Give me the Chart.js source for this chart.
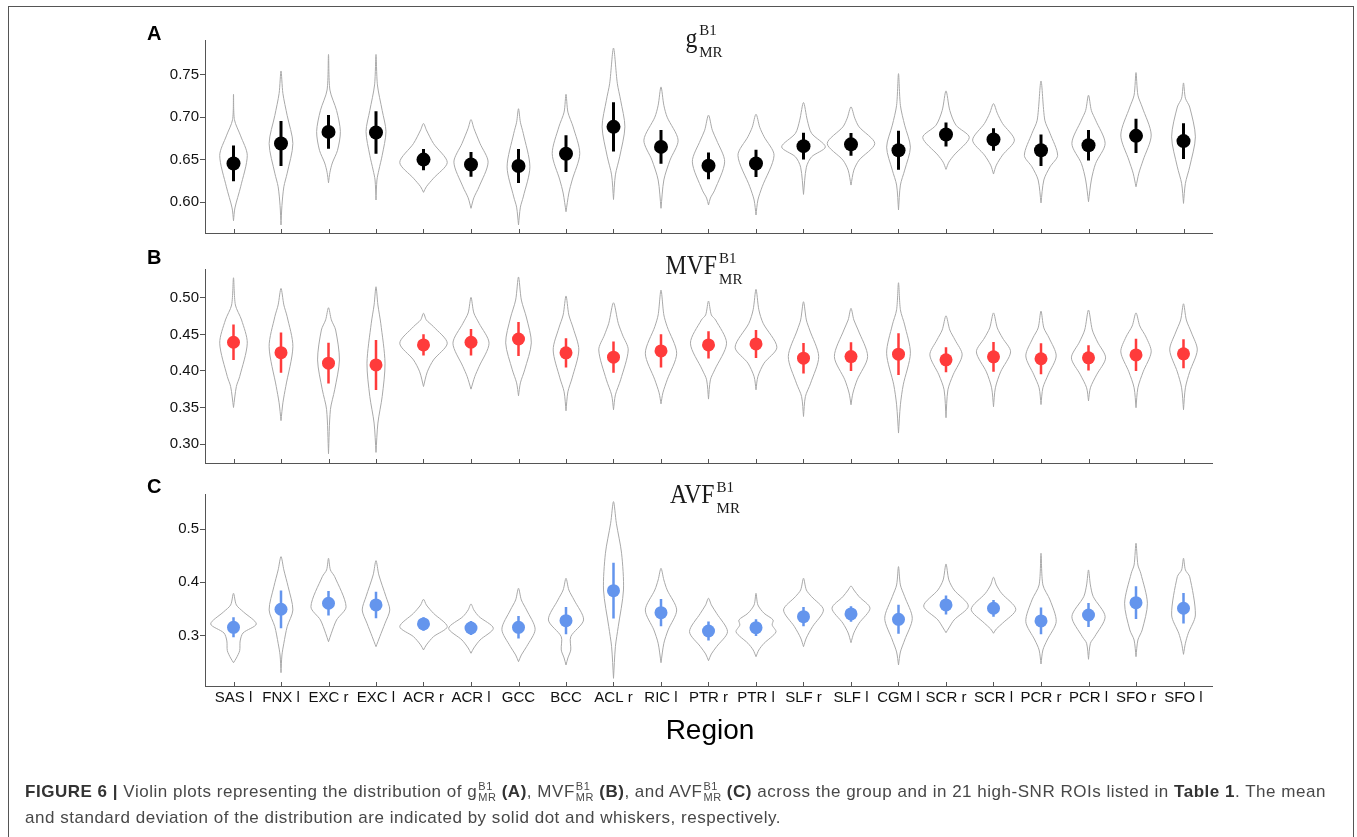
<!DOCTYPE html>
<html>
<head>
<meta charset="utf-8">
<script src="https://cdn.jsdelivr.net/npm/chart.js@4.4.0/dist/chart.umd.min.js"></script>
<style>
  body { margin: 0; background: #fff; }
  #fig { position: relative; width: 1357px; height: 837px; overflow: hidden; background: #fff; }
  #frame { position: absolute; left: 8px; top: 6px; width: 1346px; height: 900px;
    border: 1.5px solid #555; box-sizing: border-box; }
  .panel { position: absolute; left: 0; top: 0; width: 1357px; height: 837px; }
  #caption { position: absolute; left: 25px; top: 779px; font-family: "Liberation Sans", Arial, sans-serif;
    font-size: 17px; line-height: 26px; color: #484848; white-space: nowrap; }
  #caption b { color: #333; }
  #l1 { display: inline-block; }
  .ss { display: inline-block; font-size: 11px; line-height: 11px; vertical-align: -4px; margin-left: 1px; }
  .ss span { display: block; }
</style>
</head>
<body>
<div id="fig">
  <div id="frame"></div>
  <div class="panel"><canvas id="chartA" width="1357" height="837"></canvas></div>
  <div class="panel"><canvas id="chartB" width="1357" height="837"></canvas></div>
  <div class="panel"><canvas id="chartC" width="1357" height="837"></canvas></div>
  <div id="caption">
    <span id="l1"><b>FIGURE 6 |</b> Violin plots representing the distribution of g<span class="ss"><span>B1</span><span>MR</span></span> <b>(A)</b>, MVF<span class="ss"><span>B1</span><span>MR</span></span> <b>(B)</b>, and AVF<span class="ss"><span>B1</span><span>MR</span></span> <b>(C)</b> across the group and in 21 high-SNR ROIs listed in <b>Table 1</b>. The mean</span><br>
    <span id="l2">and standard deviation of the distribution are indicated by solid dot and whiskers, respectively.</span>
  </div>
</div>
<script>
// regions of interest (x categories)
const regions = ["SAS l", "FNX l", "EXC r", "EXC l", "ACR r", "ACR l", "GCC", "BCC", "ACL r", "RIC l",
  "PTR r", "PTR l", "SLF r", "SLF l", "CGM l", "SCR r", "SCR l", "PCR r", "PCR l", "SFO r", "SFO l"];

// panel A: g
const gMean = [0.6455, 0.669, 0.6827, 0.682, 0.650, 0.6443, 0.6424, 0.657, 0.6886, 0.665, 0.6427,
  0.6455, 0.6659, 0.668, 0.661, 0.6796, 0.6737, 0.661, 0.667, 0.678, 0.6718];
const gSd = [0.021, 0.0265, 0.020, 0.025, 0.0125, 0.0146, 0.020, 0.0217, 0.029, 0.020, 0.0157,
  0.016, 0.0158, 0.0133, 0.023, 0.0142, 0.0132, 0.0185, 0.018, 0.0203, 0.021];
const gTicks = [0.60, 0.65, 0.70, 0.75];
// violin outlines: [value, half width in category units]
const gViolin = [
  [[0.578,0],[0.593,0.03],[0.618,0.15],[0.655,0.29],[0.678,0.15],[0.697,0.02],[0.727,0]],
  [[0.573,0],[0.596,0.02],[0.618,0.06],[0.634,0.13],[0.669,0.25],[0.702,0.13],[0.728,0.04],[0.7545,0]],
  [[0.6227,0],[0.635,0.03],[0.646,0.08],[0.661,0.19],[0.683,0.25],[0.708,0.17],[0.732,0.03],[0.774,0]],
  [[0.6024,0],[0.626,0.02],[0.6376,0.06],[0.655,0.13],[0.683,0.21],[0.708,0.13],[0.738,0.03],[0.774,0]],
  [[0.6114,0],[0.618,0.06],[0.628,0.21],[0.6467,0.5],[0.669,0.21],[0.685,0.06],[0.6926,0]],
  [[0.5926,0],[0.605,0.06],[0.618,0.17],[0.647,0.36],[0.669,0.19],[0.687,0.06],[0.6973,0]],
  [[0.573,0],[0.594,0.04],[0.606,0.1],[0.6415,0.24],[0.681,0.1],[0.694,0.04],[0.710,0]],
  [[0.5886,0],[0.6106,0.06],[0.626,0.13],[0.657,0.29],[0.6886,0.15],[0.706,0.04],[0.727,0]],
  [[0.603,0],[0.632,0.04],[0.6533,0.13],[0.6886,0.24],[0.72,0.15],[0.74,0.08],[0.7815,0]],
  [[0.5926,0],[0.626,0.06],[0.6494,0.19],[0.673,0.36],[0.70,0.13],[0.714,0.06],[0.7357,0]],
  [[0.5965,0],[0.6047,0.04],[0.614,0.13],[0.6474,0.34],[0.673,0.17],[0.6847,0.08],[0.7024,0]],
  [[0.5847,0],[0.6024,0.04],[0.618,0.13],[0.655,0.38],[0.677,0.17],[0.688,0.08],[0.7035,0]],
  [[0.609,0],[0.641,0.06],[0.6533,0.17],[0.665,0.46],[0.681,0.17],[0.6965,0.08],[0.7173,0]],
  [[0.620,0],[0.6376,0.06],[0.6494,0.17],[0.669,0.5],[0.6886,0.17],[0.6988,0.08],[0.7122,0]],
  [[0.5906,0],[0.62,0.04],[0.6376,0.13],[0.6647,0.25],[0.6906,0.13],[0.714,0.04],[0.7514,0]],
  [[0.6385,0],[0.647,0.06],[0.6553,0.17],[0.6761,0.49],[0.6906,0.21],[0.708,0.08],[0.731,0]],
  [[0.633,0],[0.6435,0.06],[0.6553,0.19],[0.673,0.44],[0.6926,0.19],[0.7047,0.08],[0.716,0]],
  [[0.599,0],[0.626,0.06],[0.6415,0.19],[0.655,0.35],[0.681,0.19],[0.6965,0.08],[0.7427,0]],
  [[0.6004,0],[0.626,0.06],[0.6455,0.15],[0.669,0.35],[0.6965,0.15],[0.708,0.06],[0.7259,0]],
  [[0.618,0],[0.634,0.06],[0.6494,0.15],[0.679,0.32],[0.712,0.13],[0.726,0.04],[0.7526,0]],
  [[0.5984,0],[0.622,0.04],[0.6415,0.13],[0.6768,0.25],[0.712,0.13],[0.7224,0.04],[0.7404,0]]
];

// panel B: MVF
const mvfMean = [0.4393, 0.4251, 0.4107, 0.4083, 0.4357, 0.4393, 0.4438, 0.4248, 0.4189, 0.4275, 0.4357,
  0.437, 0.4175, 0.4197, 0.423, 0.4153, 0.4193, 0.4167, 0.418, 0.422, 0.4235];
const mvfSd = [0.0242, 0.0276, 0.0278, 0.0342, 0.0144, 0.0182, 0.0232, 0.020, 0.0215, 0.0229, 0.0187,
  0.0191, 0.0208, 0.0197, 0.0285, 0.017, 0.0205, 0.0212, 0.0172, 0.022, 0.0198];
const mvfTicks = [0.30, 0.35, 0.40, 0.45, 0.50];
const mvfViolin = [
  [[0.35,0],[0.3787,0.06],[0.3923,0.13],[0.438,0.29],[0.4698,0.17],[0.4903,0.04],[0.5276,0]],
  [[0.332,0],[0.3564,0.04],[0.3787,0.1],[0.4333,0.25],[0.4743,0.13],[0.4904,0.06],[0.513,0]],
  [[0.2867,0],[0.347,0.04],[0.3742,0.13],[0.4151,0.23],[0.4561,0.15],[0.47,0.06],[0.4866,0]],
  [[0.2885,0],[0.3287,0.04],[0.365,0.13],[0.4107,0.19],[0.4653,0.1],[0.4904,0.04],[0.5153,0]],
  [[0.3787,0],[0.3988,0.08],[0.4151,0.21],[0.438,0.5],[0.4607,0.21],[0.4698,0.06],[0.479,0]],
  [[0.3751,0],[0.3923,0.08],[0.406,0.17],[0.438,0.38],[0.4653,0.17],[0.4794,0.06],[0.5008,0]],
  [[0.366,0],[0.3837,0.04],[0.4015,0.13],[0.4384,0.27],[0.4725,0.17],[0.4971,0.06],[0.5287,0]],
  [[0.3455,0],[0.3715,0.04],[0.3906,0.13],[0.4288,0.27],[0.4589,0.15],[0.4767,0.06],[0.5027,0]],
  [[0.3469,0],[0.3673,0.04],[0.3879,0.15],[0.4288,0.31],[0.4493,0.19],[0.4653,0.1],[0.4934,0]],
  [[0.355,0],[0.3701,0.04],[0.3879,0.13],[0.4243,0.33],[0.4607,0.13],[0.4767,0.06],[0.5108,0]],
  [[0.3615,0],[0.3879,0.04],[0.4015,0.13],[0.438,0.38],[0.4698,0.15],[0.4767,0.06],[0.4958,0]],
  [[0.3742,0],[0.3923,0.04],[0.4107,0.17],[0.4325,0.44],[0.4653,0.15],[0.4838,0.06],[0.5117,0]],
  [[0.3377,0],[0.365,0.04],[0.3833,0.15],[0.4197,0.32],[0.4561,0.13],[0.4698,0.06],[0.4948,0]],
  [[0.3537,0],[0.3697,0.04],[0.3879,0.13],[0.4197,0.35],[0.4561,0.15],[0.4698,0.06],[0.4858,0]],
  [[0.315,0],[0.3537,0.04],[0.381,0.1],[0.4243,0.25],[0.463,0.13],[0.4838,0.04],[0.5208,0]],
  [[0.336,0],[0.3742,0.04],[0.3947,0.15],[0.422,0.34],[0.4425,0.19],[0.4561,0.08],[0.4755,0]],
  [[0.351,0],[0.377,0.04],[0.3988,0.15],[0.4261,0.36],[0.4452,0.19],[0.4589,0.08],[0.4795,0]],
  [[0.354,0],[0.377,0.04],[0.3947,0.15],[0.4206,0.32],[0.4452,0.17],[0.4589,0.06],[0.482,0]],
  [[0.359,0],[0.377,0.04],[0.3947,0.17],[0.4179,0.36],[0.4397,0.19],[0.4561,0.08],[0.4835,0]],
  [[0.3497,0],[0.377,0.04],[0.3988,0.15],[0.4261,0.32],[0.4466,0.21],[0.4616,0.08],[0.4795,0]],
  [[0.347,0],[0.377,0.04],[0.3988,0.13],[0.4288,0.29],[0.452,0.17],[0.4698,0.06],[0.492,0]]
];

// panel C: AVF
const avfMean = [0.3157, 0.3495, 0.3608, 0.3576, 0.322, 0.3144, 0.3157, 0.3282, 0.3844, 0.3432, 0.3088,
  0.315, 0.3357, 0.3407, 0.3307, 0.3576, 0.3514, 0.3276, 0.3388, 0.3619, 0.3514];
const avfSd = [0.0188, 0.0354, 0.0228, 0.025, 0.0126, 0.0132, 0.021, 0.0256, 0.0522, 0.0257, 0.0179,
  0.0157, 0.0182, 0.0147, 0.0272, 0.0179, 0.0157, 0.025, 0.0226, 0.0306, 0.0288];
const avfTicks = [0.3, 0.4, 0.5];
const avfViolin = [
  [[0.2493,0],[0.258,0.06],[0.272,0.13],[0.29,0.14],[0.305,0.2],[0.322,0.48],[0.3445,0.21],[0.3576,0.06],[0.3795,0]],
  [[0.2306,0],[0.2638,0.02],[0.2857,0.06],[0.3169,0.13],[0.3482,0.25],[0.3919,0.15],[0.4233,0.06],[0.4482,0]],
  [[0.2887,0],[0.3045,0.06],[0.3295,0.17],[0.3544,0.37],[0.4107,0.13],[0.4233,0.04],[0.4452,0]],
  [[0.2794,0],[0.2981,0.08],[0.3233,0.19],[0.3482,0.29],[0.3732,0.21],[0.4139,0.06],[0.4407,0]],
  [[0.2732,0],[0.2826,0.06],[0.2981,0.21],[0.3169,0.5],[0.342,0.21],[0.3576,0.06],[0.3683,0]],
  [[0.267,0],[0.2769,0.06],[0.2919,0.19],[0.3139,0.47],[0.3357,0.17],[0.3482,0.06],[0.3595,0]],
  [[0.2512,0],[0.2638,0.06],[0.2794,0.17],[0.312,0.35],[0.3482,0.17],[0.367,0.06],[0.3889,0]],
  [[0.245,0],[0.2582,0.04],[0.2732,0.1],[0.2981,0.1],[0.3295,0.37],[0.367,0.17],[0.3857,0.06],[0.4077,0]],
  [[0.22,0],[0.2794,0.04],[0.3169,0.1],[0.3857,0.21],[0.4546,0.17],[0.5109,0.06],[0.5514,0]],
  [[0.2493,0],[0.2857,0.06],[0.3107,0.15],[0.3482,0.33],[0.3857,0.13],[0.4045,0.06],[0.4264,0]],
  [[0.2531,0],[0.2657,0.06],[0.2794,0.17],[0.3075,0.4],[0.342,0.17],[0.3576,0.06],[0.3702,0]],
  [[0.2606,0],[0.2732,0.06],[0.2857,0.17],[0.3069,0.42],[0.3201,0.34],[0.3295,0.36],[0.342,0.17],[0.3576,0.04],[0.3795,0]],
  [[0.2794,0],[0.2957,0.06],[0.3169,0.19],[0.3482,0.42],[0.3732,0.17],[0.3857,0.06],[0.4077,0]],
  [[0.2869,0],[0.3051,0.06],[0.3233,0.17],[0.3514,0.4],[0.3732,0.17],[0.3857,0.06],[0.3932,0]],
  [[0.245,0],[0.2694,0.04],[0.2919,0.13],[0.3326,0.29],[0.3732,0.13],[0.3951,0.04],[0.4295,0]],
  [[0.3056,0],[0.3144,0.06],[0.3295,0.17],[0.3557,0.47],[0.3857,0.17],[0.4045,0.06],[0.4345,0]],
  [[0.3045,0],[0.3126,0.06],[0.3233,0.19],[0.3495,0.47],[0.3795,0.17],[0.3951,0.06],[0.4096,0]],
  [[0.2469,0],[0.2732,0.04],[0.2919,0.13],[0.3263,0.32],[0.367,0.19],[0.3951,0.04],[0.4546,0]],
  [[0.2557,0],[0.2857,0.04],[0.2981,0.13],[0.3357,0.35],[0.3732,0.1],[0.3951,0.04],[0.4233,0]],
  [[0.2606,0],[0.2919,0.04],[0.3107,0.13],[0.3608,0.24],[0.4171,0.1],[0.4326,0.04],[0.4734,0]],
  [[0.265,0],[0.2857,0.04],[0.3045,0.1],[0.3388,0.25],[0.4107,0.13],[0.4233,0.04],[0.4452,0]]
];

const AXIS = "#555";
const SANS = '"Liberation Sans", Arial, sans-serif';
const SERIF = '"Liberation Serif", "Times New Roman", serif';

// outline of each violin as a closed line through the knots
function violinDatasets(violins) {
  return violins.map((knots, i) => {
    const c = i + 1;
    const left = knots.map(k => ({ x: c - k[1], y: k[0] }));
    const right = knots.slice(0, -1).reverse().map(k => ({ x: c + k[1], y: k[0] }));
    return {
      data: left.concat(right),
      showLine: true,
      borderColor: "#a9a9a9",
      borderWidth: 1,
      pointRadius: 0,
      tension: 0.28,
      order: 3
    };
  });
}

function whiskerData(mean, sd) {
  const pts = [];
  mean.forEach((m, i) => {
    pts.push({ x: i + 1, y: m - sd[i] }, { x: i + 1, y: m + sd[i] }, { x: i + 1, y: null });
  });
  return pts;
}

const panelDecor = {
  id: "panelDecor",
  afterDraw(chart, args, o) {
    const { ctx, chartArea } = chart;
    const x = chart.scales.x;
    ctx.save();
    // inward tick marks on the x axis
    ctx.strokeStyle = AXIS;
    ctx.lineWidth = 1;
    regions.forEach((r, i) => {
      const px = Math.round(x.getPixelForValue(i + 1)) + 0.5;
      ctx.beginPath();
      ctx.moveTo(px, chartArea.bottom);
      ctx.lineTo(px, chartArea.bottom - 4);
      ctx.stroke();
    });
    ctx.fillStyle = "#000";
    ctx.textBaseline = "alphabetic";
    ctx.textAlign = "left";
    ctx.font = "bold 20px " + SANS;
    ctx.fillText(o.letter, 147, o.letterY);

    // title with stacked super/subscript
    ctx.fillStyle = "#1a1a1a";
    ctx.font = "27px " + SERIF;
    const mw = ctx.measureText(o.title).width * 0.88;
    ctx.font = "15px " + SERIF;
    const sw = Math.max(ctx.measureText("B1").width, ctx.measureText("MR").width);
    const left = o.titleX - (mw + 2 + sw) / 2;
    ctx.save();
    ctx.translate(left, o.titleY);
    ctx.scale(0.88, 1);
    ctx.font = "27px " + SERIF;
    ctx.fillText(o.title, 0, 0);
    ctx.restore();
    ctx.font = "15px " + SERIF;
    ctx.fillText("B1", left + mw + 2, o.titleY - 11.5);
    ctx.fillText("MR", left + mw + 2, o.titleY + 10);

    if (o.xTitle) {
      ctx.fillStyle = "#000";
      ctx.font = "28px " + SANS;
      ctx.textAlign = "center";
      ctx.fillText(o.xTitle, 710, 739);
    }
    ctx.restore();
  }
};

function makePanel(id, p) {
  const datasets = [
    {
      data: p.mean.map((m, i) => ({ x: i + 1, y: m })),
      pointRadius: p.dot,
      pointHoverRadius: p.dot,
      pointBackgroundColor: p.color,
      pointBorderWidth: 0,
      showLine: false,
      order: 1
    },
    {
      data: whiskerData(p.mean, p.sd),
      showLine: true,
      spanGaps: false,
      borderColor: p.color,
      borderWidth: p.whisker,
      borderCapStyle: "butt",
      pointRadius: 0,
      order: 2
    }
  ].concat(violinDatasets(p.violin));

  return new Chart(document.getElementById(id), {
    type: "scatter",
    data: { datasets },
    plugins: [panelDecor],
    options: {
      responsive: false,
      animation: false,
      layout: { padding: { left: 0, top: p.top, right: 145, bottom: p.bottom } },
      plugins: {
        legend: { display: false },
        tooltip: { enabled: false },
        panelDecor: p.decor
      },
      scales: {
        x: {
          type: "linear",
          min: 0.4,
          max: 21.6,
          afterBuildTicks: s => { s.ticks = regions.map((r, i) => ({ value: i + 1 })); },
          afterFit: s => { s.height = p.xHeight; },
          grid: { display: false, drawTicks: false },
          border: { display: true, color: AXIS, width: 1 },
          ticks: {
            display: p.showLabels,
            autoSkip: false,
            maxRotation: 0,
            padding: 3,
            color: "#111",
            font: { family: SANS, size: 15 },
            callback: v => regions[v - 1]
          }
        },
        y: {
          min: p.min,
          max: p.max,
          afterBuildTicks: s => { s.ticks = p.ticks.map(v => ({ value: v })); },
          afterFit: s => { s.width = 205; },
          grid: { display: true, drawOnChartArea: false, drawTicks: true, tickLength: 5, color: AXIS },
          border: { display: true, color: AXIS, width: 1 },
          ticks: {
            padding: 1,
            color: "#111",
            font: { family: SANS, size: 15 },
            callback: v => v.toFixed(p.digits)
          }
        }
      }
    }
  });
}

makePanel("chartA", {
  mean: gMean, sd: gSd, violin: gViolin, ticks: gTicks, digits: 2,
  min: 0.5635, max: 0.791, top: 40, bottom: 604, xHeight: 0, showLabels: false,
  color: "#000000", dot: 7, whisker: 3,
  decor: { letter: "A", letterY: 40, title: "g", titleX: 704, titleY: 46.7 }
});
makePanel("chartB", {
  mean: mvfMean, sd: mvfSd, violin: mvfViolin, ticks: mvfTicks, digits: 2,
  min: 0.274, max: 0.5396, top: 269, bottom: 374, xHeight: 0, showLabels: false,
  color: "#ff3b3b", dot: 6.5, whisker: 2.5,
  decor: { letter: "B", letterY: 264, title: "MVF", titleX: 704, titleY: 274.3 }
});
makePanel("chartC", {
  mean: avfMean, sd: avfSd, violin: avfViolin, ticks: avfTicks, digits: 1,
  min: 0.2056, max: 0.5657, top: 494, bottom: 121, xHeight: 30, showLabels: true,
  color: "#6495ed", dot: 6.5, whisker: 2.5,
  decor: { letter: "C", letterY: 493, title: "AVF", titleX: 705, titleY: 503.3, xTitle: "Region" }
});

// stretch the caption so the first line ends where the printed one does
const l1 = document.getElementById("l1");
const w1 = l1.getBoundingClientRect().width;
const gap = (1304 - w1) / l1.textContent.replace(/\s+/g, " ").trim().length;
document.getElementById("caption").style.letterSpacing = Math.max(0, gap) + "px";
</script>
</body>
</html>
